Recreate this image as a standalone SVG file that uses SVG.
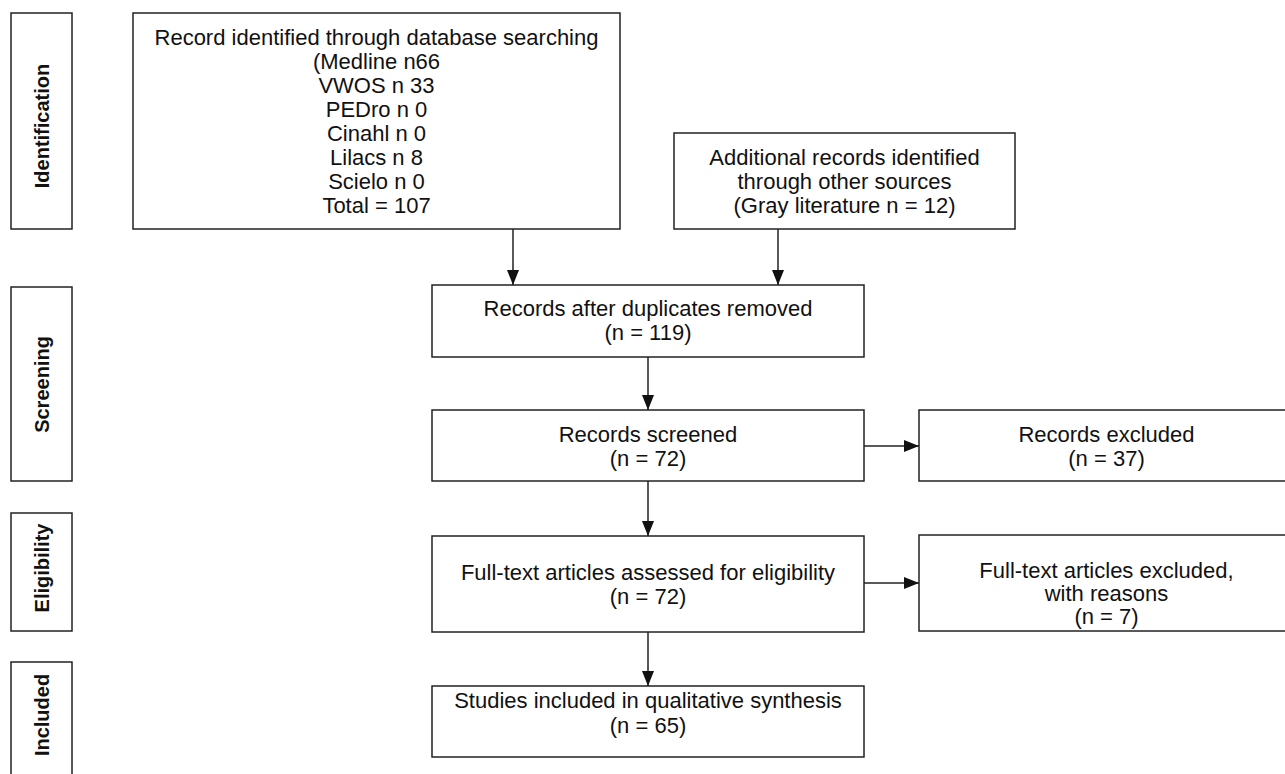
<svg xmlns="http://www.w3.org/2000/svg" width="1285" height="774" viewBox="0 0 1285 774">
<style>
.box{fill:#fff;stroke:#222;stroke-width:1.5}
.t{font-family:"Liberation Sans",Arial,sans-serif;font-size:22px;fill:#111;text-anchor:middle}
.lab{font-family:"Liberation Sans",Arial,sans-serif;font-size:20px;font-weight:bold;fill:#111;text-anchor:middle}
.c{stroke:#222;stroke-width:1.5;fill:none}
</style>
<defs>
<marker id="ah" markerUnits="userSpaceOnUse" markerWidth="16" markerHeight="12" refX="15" refY="6" orient="auto">
<path d="M0,0 L15,6 L0,12 Z" fill="#111"/>
</marker>
</defs>
<rect width="1285" height="774" fill="#fff"/>
<g id="lab-identification"><rect class="box" x="11" y="13" width="61" height="216"/><text class="lab" transform="translate(48.5,126) rotate(-90)">Identification</text></g>
<g id="lab-screening"><rect class="box" x="11" y="287" width="61" height="194"/><text class="lab" transform="translate(48.5,384.5) rotate(-90)">Screening</text></g>
<g id="lab-eligibility"><rect class="box" x="11" y="513" width="61" height="118"/><text class="lab" transform="translate(48.5,568) rotate(-90)">Eligibility</text></g>
<g id="lab-included"><rect class="box" x="11" y="662" width="61" height="130"/><text class="lab" transform="translate(48.5,715) rotate(-90)">Included</text></g>
<g id="n-database"><rect class="box" x="133" y="13" width="487" height="216"/>
<text class="t" x="376.5" y="45">Record identified through database searching</text>
<text class="t" x="376.5" y="69">(Medline n66</text>
<text class="t" x="376.5" y="93">VWOS n 33</text>
<text class="t" x="376.5" y="117">PEDro n 0</text>
<text class="t" x="376.5" y="141">Cinahl n 0</text>
<text class="t" x="376.5" y="165">Lilacs n 8</text>
<text class="t" x="376.5" y="189">Scielo n 0</text>
<text class="t" x="376.5" y="213">Total = 107</text></g>
<g id="n-additional"><rect class="box" x="674" y="133" width="341" height="96"/>
<text class="t" x="844.5" y="165">Additional records identified</text>
<text class="t" x="844.5" y="189">through other sources</text>
<text class="t" x="844.5" y="213">(Gray literature n = 12)</text></g>
<g id="n-dedup"><rect class="box" x="432" y="285" width="432" height="72"/>
<text class="t" x="648" y="316">Records after duplicates removed</text>
<text class="t" x="648" y="340">(n = 119)</text></g>
<g id="n-screened"><rect class="box" x="432" y="410" width="432" height="71"/>
<text class="t" x="648" y="442">Records screened</text>
<text class="t" x="648" y="466">(n = 72)</text></g>
<g id="n-excluded"><rect class="box" x="919" y="410" width="380" height="71"/>
<text class="t" x="1106.5" y="442">Records excluded</text>
<text class="t" x="1106.5" y="466">(n = 37)</text></g>
<g id="n-fulltext"><rect class="box" x="432" y="536" width="432" height="96"/>
<text class="t" x="648" y="580">Full-text articles assessed for eligibility</text>
<text class="t" x="648" y="604">(n = 72)</text></g>
<g id="n-ftexcluded"><rect class="box" x="919" y="535" width="380" height="96"/>
<text class="t" x="1106.5" y="578">Full-text articles excluded,</text>
<text class="t" x="1106.5" y="601">with reasons</text>
<text class="t" x="1106.5" y="624">(n = 7)</text></g>
<g id="n-included"><rect class="box" x="432" y="686" width="432" height="71"/>
<text class="t" x="648" y="708">Studies included in qualitative synthesis</text>
<text class="t" x="648" y="733">(n = 65)</text></g>
<g id="connectors">
<line class="c" x1="513" y1="229" x2="513" y2="285" marker-end="url(#ah)"/>
<line class="c" x1="778" y1="229" x2="778" y2="285" marker-end="url(#ah)"/>
<line class="c" x1="648" y1="357" x2="648" y2="410" marker-end="url(#ah)"/>
<line class="c" x1="648" y1="481" x2="648" y2="536" marker-end="url(#ah)"/>
<line class="c" x1="648" y1="632" x2="648" y2="686" marker-end="url(#ah)"/>
<line class="c" x1="864" y1="446" x2="919" y2="446" marker-end="url(#ah)"/>
<line class="c" x1="864" y1="583" x2="919" y2="583" marker-end="url(#ah)"/>
</g>
</svg>
